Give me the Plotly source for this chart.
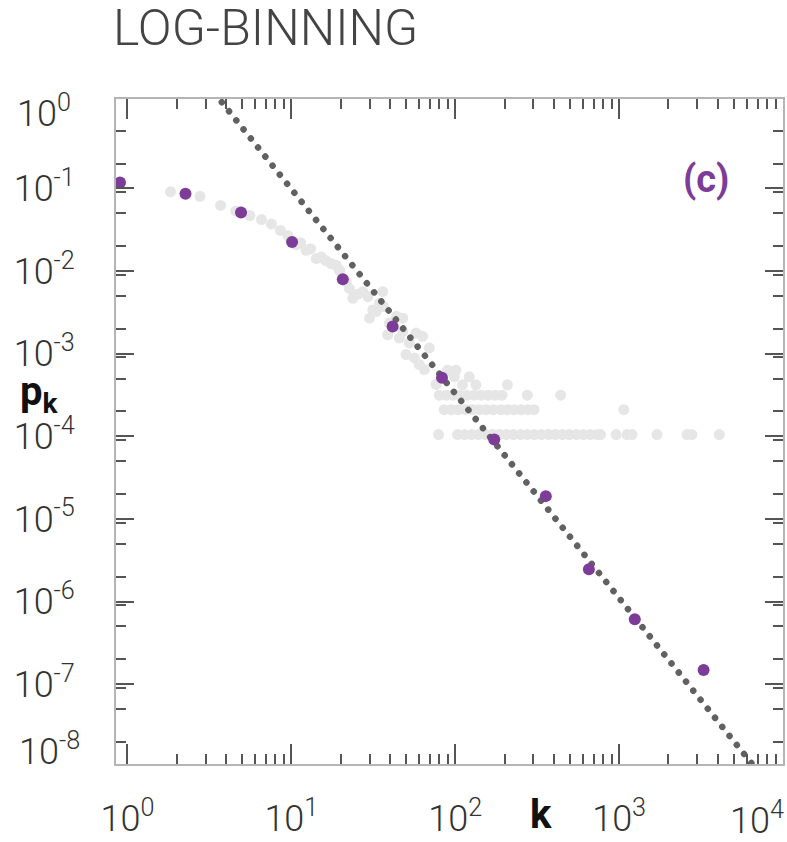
import plotly.graph_objects as go

# ---- log-binned degree distribution (purple) ----
binned_k = [0.90, 2.26, 4.93, 10.1, 20.6, 41.5, 83.0, 173, 357, 654, 1246, 3277]
binned_p = [0.118, 0.0862, 0.0510, 0.0225, 0.00798, 0.00213, 5.12e-4,
            9.13e-5, 1.89e-5, 2.46e-6, 6.11e-7, 1.49e-7]

# ---- linearly binned raw distribution (grey), head of the curve ----
head_k = [1.83, 2.77, 3.70, 4.58, 5.58, 6.57, 7.56, 8.57, 9.54, 10.7,
          11.4, 12.3, 13.1, 14.2, 15.2, 16.2, 17.5, 18.8, 19.7, 21.6,
          22.6, 23.7, 25.3, 27.3, 29.3, 30.0, 31.4, 32.9, 34.5, 36.1,
          36.5, 38.7, 39.7, 43.8, 45.6, 47.8, 47.8, 50.1, 52.5, 56.3,
          57.6, 60.4, 63.2, 64.8, 69.5, 76.3]
head_p = [0.0911, 0.0802, 0.0622, 0.0534, 0.0469, 0.0420, 0.0370, 0.0310, 0.0267, 0.0208,
          0.0220, 0.0178, 0.01866, 0.01416, 0.01484, 0.01339, 0.01232, 0.01176, 0.01016, 0.00743,
          0.00617, 0.00468, 0.00523, 0.00563, 0.00490, 0.00269, 0.00339, 0.00324, 0.00408, 0.00563,
          0.00372, 0.001696, 0.002344, 0.002844, 0.001548, 0.001863, 0.00269, 0.000975, 0.001348, 0.00089,
          0.001778, 0.000739, 0.001622, 0.000644, 0.001174, 0.000425]

# ---- tail: degree k and number of nodes N_k having it ----
N_NODES = 9520
tail_k = [89.8, 101,
          98.6, 121.7,
          110.8, 133.7, 208.1,
          79.9, 88.2, 97.2, 107.3, 118.3, 130.5, 143.9, 158.8, 175.2, 193.2, 275.4, 439.8,
          85.7, 94.6, 104.3, 115.1, 126.9, 140.0, 154.4, 170.3, 189.7, 208.1, 228.6, 252.1,
          278.1, 302.6, 1068,
          79.1, 103.3, 113.9, 125.7, 138.7, 152.9, 168.7, 186.1, 205.2, 226.4, 249.7, 275.4,
          303.8, 335.2, 369.8, 407.8, 449.9, 496.3, 547.4, 603.9, 666.1, 734.8, 770.5, 958.7,
          1119, 1200, 1703, 2594, 2782, 4085]
tail_count = [6, 6,
              5, 5,
              4, 4, 4,
              3, 3, 3, 3, 3, 3, 3, 3, 3, 3, 3, 3,
              2, 2, 2, 2, 2, 2, 2, 2, 2, 2, 2, 2, 2, 2, 2,
              1, 1, 1, 1, 1, 1, 1, 1, 1, 1, 1, 1, 1, 1, 1, 1, 1, 1, 1, 1, 1, 1, 1, 1,
              1, 1, 1, 1, 1, 1]

# ---- power-law fit p_k = P100 * (k/100)^-gamma ----
FIT_GAMMA = 2.475
FIT_P100 = 3.29e-4
fit_k = [1.0, 1.0e4]
fit_p = [FIT_P100 * (k / 100.0) ** (-FIT_GAMMA) for k in fit_k]

# ---- axis ticks ----
x_major = [1, 10, 100, 1000]
x_major_text = ["10<sup>0</sup>", "10<sup>1</sup>", "10<sup>2</sup>", "10<sup>3</sup>"]
y_major = [1e-1, 1e-2, 1e-3, 1e-4, 1e-5, 1e-6, 1e-7]
y_major_text = ["10<sup>-1</sup>", "10<sup>-2</sup>", "10<sup>-3</sup>", "10<sup>-4</sup>",
                "10<sup>-5</sup>", "10<sup>-6</sup>", "10<sup>-7</sup>"]
x_minor = [m * 10 ** e for e in range(0, 4) for m in range(2, 10)]
y_minor = [m * 10.0 ** e for e in range(-8, 0) for m in (2, 5, 9) if m * 10.0 ** e < 0.5]
y_minor.append(0.5)

PURPLE = "#7d3c98"
GREY_DOT = "#e6e6e6"
TICK_COL = "#555555"
FRAME_COL = "#b5b5b5"
LABEL_FONT = dict(family="Roboto", size=36, color="#333333", weight=300)

fig = go.Figure()

fig.add_trace(go.Scatter(
    x=head_k + tail_k,
    y=head_p + [c / N_NODES for c in tail_count],
    mode="markers",
    marker=dict(size=11, color=GREY_DOT, line=dict(width=0)),
    hoverinfo="skip",
))

fig.add_trace(go.Scatter(
    x=fit_k, y=fit_p, mode="lines",
    line=dict(color="#616161", width=6.5, dash="0.1px,11.5px"),
    hoverinfo="skip",
))

fig.add_trace(go.Scatter(
    x=binned_k, y=binned_p, mode="markers",
    marker=dict(size=12, color=PURPLE, line=dict(width=0)),
    cliponaxis=False,
))

fig.update_layout(
    width=787, height=842,
    margin=dict(l=116, r=2, t=99, b=73),
    paper_bgcolor="white", plot_bgcolor="white",
    showlegend=False,
    title=dict(
        text="LOG-BINNING",
        font=dict(family="Roboto", size=50, color="#444444", weight=300),
        xref="container", yref="container",
        x=113 / 787, xanchor="left",
        y=1 - 27 / 842, yanchor="middle",
    ),
    xaxis=dict(
        type="log", range=[-0.07, 4.0],
        showline=True, linecolor=FRAME_COL, linewidth=2, mirror="ticks",
        ticks="inside", ticklen=20, tickwidth=2, tickcolor=TICK_COL,
        tickvals=x_major, ticktext=x_major_text, tickfont=LABEL_FONT,
        ticklabelstandoff=22,
        showgrid=False, zeroline=False,
        minor=dict(tickvals=x_minor, ticks="inside", ticklen=10, tickwidth=2,
                   tickcolor=TICK_COL, showgrid=False),
    ),
    yaxis=dict(
        type="log", range=[-7.965, 0.082],
        showline=True, linecolor=FRAME_COL, linewidth=2, mirror="ticks",
        ticks="inside", ticklen=18, tickwidth=2, tickcolor=TICK_COL,
        tickvals=y_major, ticktext=y_major_text, tickfont=LABEL_FONT,
        ticklabelstandoff=32,
        showgrid=False, zeroline=False,
        minor=dict(tickvals=y_minor, ticks="inside", ticklen=10, tickwidth=2,
                   tickcolor=TICK_COL, showgrid=False),
    ),
)

# edge decade labels, nudged inside the figure
fig.add_annotation(x=4, y=0, xref="x", yref="paper", text="10<sup>4</sup>",
                   showarrow=False, font=LABEL_FONT, xanchor="right", yanchor="top",
                   xshift=3, yshift=-29)
fig.add_annotation(x=0, y=0, xref="paper", yref="y", text="10<sup>0</sup>",
                   showarrow=False, font=LABEL_FONT, xanchor="right", yanchor="middle",
                   xshift=-43, yshift=-6)
fig.add_annotation(x=0, y=0, xref="paper", yref="paper", text="10<sup>-8</sup>",
                   showarrow=False, font=LABEL_FONT, xanchor="right", yanchor="middle",
                   xshift=-34, yshift=15)

# axis titles and panel tag
fig.add_annotation(x=-0.115, y=0.556, xref="paper", yref="paper",
                   text="<b>p<sub>k</sub></b>", showarrow=False,
                   xanchor="center", yanchor="middle",
                   font=dict(family="Roboto", size=40, color="#111111"))
fig.add_annotation(x=0.637, y=-0.1149, xref="paper", yref="paper",
                   text="<b>k</b>", showarrow=False,
                   xanchor="center", yanchor="bottom",
                   font=dict(family="Roboto", size=40, color="#111111"))
fig.add_annotation(x=0.885, y=0.879, xref="paper", yref="paper",
                   text="<b>(c)</b>", showarrow=False,
                   xanchor="center", yanchor="middle",
                   font=dict(family="Roboto", size=38, color=PURPLE))

round_dots = """
var gd = document.getElementById('{plot_id}');
function roundCaps() {
  gd.querySelectorAll('.scatterlayer .js-line').forEach(function (p) {
    p.style.strokeLinecap = 'round';
  });
}
roundCaps();
gd.on('plotly_afterplot', roundCaps);
"""

fig.write_html("out.html", post_script=round_dots)
